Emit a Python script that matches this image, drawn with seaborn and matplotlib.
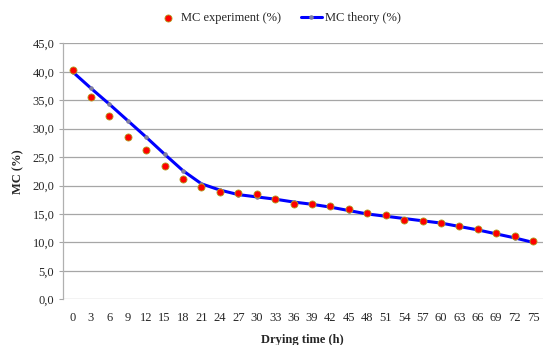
import numpy as np
import pandas as pd
import matplotlib
matplotlib.use("Agg")
import matplotlib.pyplot as plt
from matplotlib.ticker import FuncFormatter
import seaborn as sns

hours = [0, 3, 6, 9, 12, 15, 18, 21, 24, 27, 30, 33, 36, 39, 42, 45, 48, 51,
         54, 57, 60, 63, 66, 69, 72, 75]
mc_experiment = [40.3, 35.6, 32.3, 28.6, 26.3, 23.5, 21.1, 19.7, 18.9, 18.7,
                 18.5, 17.6, 16.8, 16.7, 16.4, 15.9, 15.2, 14.9, 13.9, 13.7,
                 13.4, 12.8, 12.3, 11.7, 11.1, 10.3]
mc_theory = [40.0, 37.1, 34.3, 31.4, 28.5, 25.5, 22.6, 20.3, 19.2, 18.4,
             18.0, 17.6, 17.1, 16.7, 16.2, 15.6, 15.0, 14.6, 14.2, 13.8,
             13.4, 12.8, 12.2, 11.5, 10.8, 10.0]
y_ticks = [0, 5, 10, 15, 20, 25, 30, 35, 40, 45]

df = pd.DataFrame({"hours": hours, "exp": mc_experiment, "theory": mc_theory})

sns.set_style("white")
plt.rcParams["font.family"] = ["Liberation Serif", "DejaVu Serif"]

fig = plt.figure(figsize=(5.5, 3.45), dpi=100)
ax = fig.add_axes([0.114, 0.1325, 0.873, 0.742])

sns.lineplot(data=df, x="hours", y="theory", ax=ax, color="#0000ff",
             linewidth=2.2, marker="o", markersize=2.5, markerfacecolor="#8080a0",
             markeredgecolor="#8080a0", label="MC theory (%)", zorder=3)
sns.scatterplot(data=df, x="hours", y="exp", ax=ax, color="#ff0000",
                edgecolor="#b0a020", linewidth=0.6, s=26,
                label="MC experiment (%)", zorder=4)

ax.set_xlim(-1.6, 76.6)
ax.set_ylim(0, 45)
ax.set_xticks(hours)
ax.set_yticks(y_ticks)
ax.yaxis.set_major_formatter(FuncFormatter(lambda v, p: f"{v:.1f}".replace(".", ",")))
ax.yaxis.grid(True, color="#a6a6a6", linewidth=0.9)
ax.set_axisbelow(True)

for s in ["top", "right", "bottom"]:
    ax.spines[s].set_visible(False)
ax.spines["left"].set_color("#b0b0b0")
ax.spines["left"].set_linewidth(0.9)

ax.tick_params(axis="y", length=3, color="#a6a6a6", labelsize=9, pad=3,
               left=True, direction="out")
ax.tick_params(axis="x", length=0, labelsize=9, pad=9)

ax.set_xlabel("Drying time (h)", fontsize=9, fontweight="bold", labelpad=7)
ax.set_ylabel("MC (%)", fontsize=9, fontweight="bold", labelpad=6)

# legend on top, experiment first
handles, labels = ax.get_legend_handles_labels()
order = [1, 0]
ax.legend([handles[i] for i in order], [labels[i] for i in order],
          loc="lower center", bbox_to_anchor=(0.45, 1.03), ncol=2,
          frameon=False, fontsize=9, handlelength=1.7, columnspacing=1.6,
          handletextpad=0.2)

fig.savefig("out.png", dpi=100)
